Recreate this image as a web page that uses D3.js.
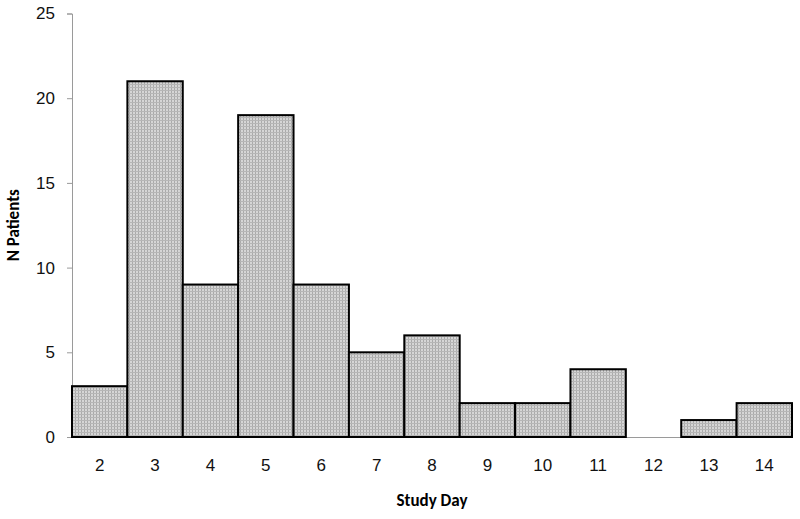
<!DOCTYPE html>
<html>
<head>
<meta charset="utf-8">
<script src="https://cdn.jsdelivr.net/npm/d3@7"></script>
<style>
  body { margin: 0; background: #fff; }
  svg { display: block; font-family: Calibri, Carlito, Lato, sans-serif; }
</style>
</head>
<body>
<svg id="base" width="800" height="519"></svg>
<script>
const days = ["2", "3", "4", "5", "6", "7", "8", "9", "10", "11", "12", "13", "14"];
const patients = [3, 21, 9, 19, 9, 5, 6, 2, 2, 4, 0, 1, 2];
const yTicks = [0, 5, 10, 15, 20, 25];

const svg = d3.select("#base");
const plotLeft = 72, plotRight = 792, plotTop = 13.5, plotBottom = 437;

// dotted fill
const defs = svg.append("defs");
const pat = defs.append("pattern")
    .attr("id", "dots")
    .attr("patternUnits", "userSpaceOnUse")
    .attr("width", 3)
    .attr("height", 3);
pat.append("rect").attr("width", 3).attr("height", 3).attr("fill", "#d6d6d6");
pat.append("rect").attr("width", 1).attr("height", 3).attr("fill", "#aaaaaa");
pat.append("rect").attr("width", 3).attr("height", 1).attr("fill", "#b6b6b6");

const x = d3.scaleBand().domain(days).range([plotLeft, plotRight]).padding(0);
const y = d3.scaleLinear().domain([0, 25]).range([plotBottom, plotTop]);

// x axis (drawn first so bars sit on top)
const xAxis = svg.append("g")
    .attr("transform", `translate(0,${plotBottom})`)
    .call(d3.axisBottom(x).tickSize(0).tickPadding(22));
xAxis.select(".domain").attr("stroke", "#9a9a9a");
xAxis.selectAll("text").attr("font-size", 17).attr("fill", "#111");

// y axis
const yAxis = svg.append("g")
    .attr("transform", `translate(${plotLeft},0)`)
    .call(d3.axisLeft(y).tickValues(yTicks).tickSize(5).tickPadding(12));
yAxis.select(".domain").attr("stroke", "#9a9a9a");
yAxis.selectAll(".tick line").attr("stroke", "#9a9a9a");
yAxis.selectAll("text").attr("font-size", 17).attr("fill", "#111");

// bars
svg.append("g")
    .selectAll("rect")
    .data(days.map((d, i) => ({ day: d, n: patients[i] })).filter(d => d.n > 0))
    .enter()
    .append("rect")
    .attr("x", d => x(d.day))
    .attr("y", d => y(d.n))
    .attr("width", x.bandwidth())
    .attr("height", d => y(0) - y(d.n))
    .attr("fill", "url(#dots)")
    .attr("stroke", "#000")
    .attr("stroke-width", 2);

// titles
svg.append("text")
    .attr("x", (plotLeft + plotRight) / 2)
    .attr("y", 506)
    .attr("text-anchor", "middle")
    .attr("font-size", 17)
    .attr("font-weight", "bold")
    .text("Study Day");

svg.append("text")
    .attr("transform", `translate(19,${(plotTop + plotBottom) / 2}) rotate(-90)`)
    .attr("text-anchor", "middle")
    .attr("font-size", 17)
    .attr("font-weight", "bold")
    .text("N Patients");
</script>
</body>
</html>
